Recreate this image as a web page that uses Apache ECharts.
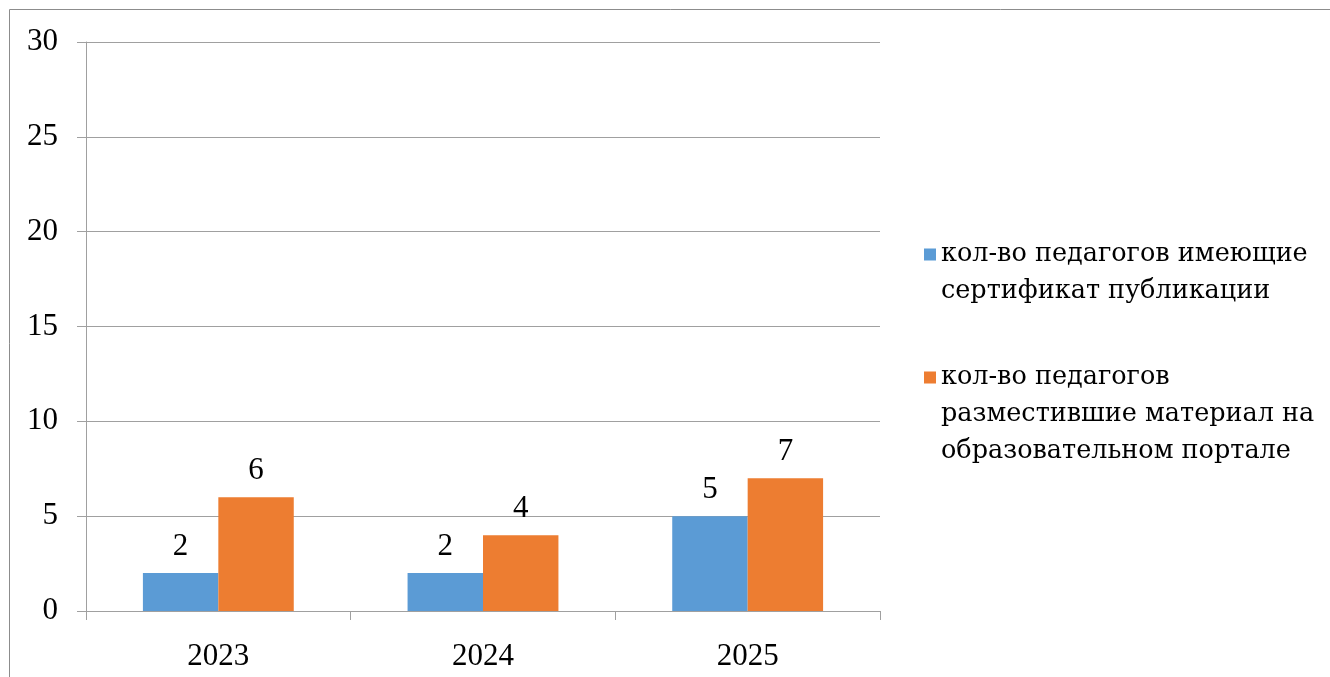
<!DOCTYPE html>
<html><head><meta charset="utf-8">
<script src="https://cdn.jsdelivr.net/npm/echarts@6/dist/echarts.min.js"></script>
<style>html,body{margin:0;padding:0;background:#fff}#c{width:1330px;height:677px}</style>
</head><body><div id="c"></div>
<script>
const categories = ['2023', '2024', '2025'];
const seriesNames = ['кол-во педагогов имеющие сертификат публикации', 'кол-во педагогов разместившие материал на образовательном портале'];
const legendLines = [['кол-во педагогов имеющие', 'сертификат публикации'], ['кол-во педагогов', 'разместившие материал на', 'образовательном портале']];
const certified = [2, 2, 5];
const portal = [6, 4, 7];
const yTicks = [0, 5, 10, 15, 20, 25, 30];

const FONT = '"Liberation Serif", "Times New Roman", serif';
const LFONT = '"DejaVu Serif", serif';
const FS = 31;
const axisColor = '#a0a0a0';
function iconPath(sqTop) {
  return 'path://M0,0h0.01v0.01h-0.01z M0,100h0.01v-0.01h-0.01z M0,' + sqTop + 'h12v12h-12z';
}
function legendFor(idx, top, sqTop, color) {
  const ts = { fontFamily: LFONT, fontSize: 25.5, lineHeight: 37, color: '#000' };
  return {
    show: true, orient: 'vertical', left: 924, top: top, padding: 0,
    itemWidth: 12, itemHeight: 100, itemGap: 0,
    selectedMode: false,
    data: [{ name: seriesNames[idx], icon: iconPath(sqTop), itemStyle: { color: color }, textStyle: ts }],
    formatter: function () { return legendLines[idx].join('\n'); },
    textStyle: ts
  };
}
const chart = echarts.init(document.getElementById('c'), null, { renderer: 'canvas' });
chart.setOption({
  animation: false,
  textStyle: { fontFamily: FONT },
  graphic: [{ type: 'rect', shape: { x: 9.5, y: 9.5, width: 1400, height: 800 }, style: { fill: 'none', stroke: '#8c8c8c', lineWidth: 1 }, silent: true }],
  grid: { left: 86, right: 450, top: 42, bottom: 66, containLabel: false },
  legend: [legendFor(0, 223, 25.5, '#5B9BD5'), legendFor(1, 359, 7, '#ED7D31')],
  xAxis: {
    type: 'category', data: categories,
    axisLine: { show: true, lineStyle: { color: axisColor, width: 1 } },
    axisTick: { show: true, length: 9, lineStyle: { color: axisColor } },
    axisLabel: { fontFamily: FONT, fontSize: FS, color: '#000', margin: 30 },
    splitLine: { show: false }
  },
  yAxis: {
    type: 'value', min: yTicks[0], max: yTicks[yTicks.length - 1], interval: yTicks[1] - yTicks[0],
    axisLine: { show: true, lineStyle: { color: axisColor, width: 1 } },
    axisTick: { show: true, length: 9, lineStyle: { color: axisColor } },
    axisLabel: { fontFamily: FONT, fontSize: FS, color: '#000', margin: 28 },
    splitLine: { show: true, lineStyle: { color: axisColor, width: 1 } }
  },
  series: [
    { name: seriesNames[0], type: 'bar', data: certified, barWidth: '28.5%', barGap: '0%',
      itemStyle: { color: '#5B9BD5' },
      label: { show: true, position: 'top', distance: 11, fontFamily: FONT, fontSize: FS, color: '#000' } },
    { name: seriesNames[1], type: 'bar', data: portal, barWidth: '28.5%', barGap: '0%',
      itemStyle: { color: '#ED7D31' },
      label: { show: true, position: 'top', distance: 11, fontFamily: FONT, fontSize: FS, color: '#000' } }
  ]
});
</script></body></html>
